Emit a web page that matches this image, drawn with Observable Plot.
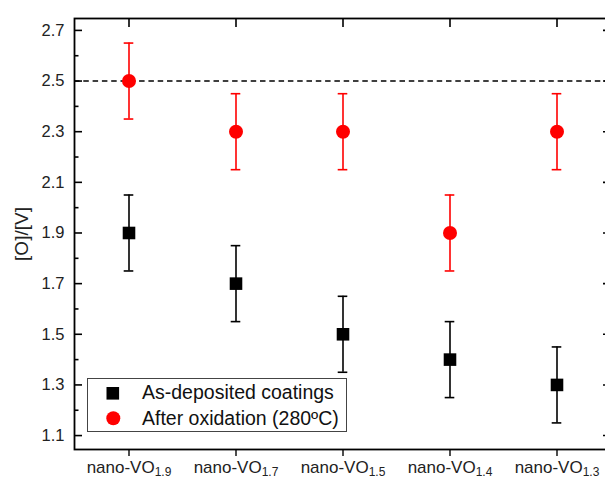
<!DOCTYPE html>
<html>
<head>
<meta charset="utf-8">
<script src="https://cdn.jsdelivr.net/npm/d3@7"></script>
<script src="https://cdn.jsdelivr.net/npm/@observablehq/plot@0.6"></script>
<style>
  html, body { margin: 0; padding: 0; background: #fff; overflow: hidden; }
  #wrap { width: 605px; height: 478px; overflow: hidden; }
  svg { font-family: "Liberation Sans", Arial, sans-serif; }
</style>
</head>
<body>
<div id="wrap"></div>
<script>
// Data
const categories = ["1.9", "1.7", "1.5", "1.4", "1.3"];
const asDeposited = [1.9, 1.7, 1.5, 1.4, 1.3];
const asDepositedErr = [0.15, 0.15, 0.15, 0.15, 0.15];
const oxidized = [2.5, 2.3, 2.3, 1.9, 2.3];
const oxidizedErr = [0.15, 0.15, 0.15, 0.15, 0.15];
const yTicks = [1.1, 1.3, 1.5, 1.7, 1.9, 2.1, 2.3, 2.5, 2.7];
const yMinorTicks = [1.2, 1.4, 1.6, 1.8, 2.0, 2.2, 2.4, 2.6];
const referenceLevel = 2.5;
const seriesNames = ["As-deposited coatings", "After oxidation (280ºC)"];
const seriesColors = ["#000000", "#ff0000"];

const dep = categories.map((c, i) => ({cat: c, v: asDeposited[i], lo: asDeposited[i] - asDepositedErr[i], hi: asDeposited[i] + asDepositedErr[i]}));
const ox = categories.map((c, i) => ({cat: c, v: oxidized[i], lo: oxidized[i] - oxidizedErr[i], hi: oxidized[i] + oxidizedErr[i]}));

const W = 611, H = 478;
const capInset = 48.7;

const chart = Plot.plot({
  width: W,
  height: H,
  marginLeft: 74,
  marginRight: 0,
  marginTop: 18,
  marginBottom: 29,
  style: {fontFamily: "Liberation Sans, Arial, sans-serif", maxWidth: "none", background: "white"},
  x: {type: "band", domain: categories, padding: 0},
  y: {domain: [1.045, 2.747]},
  marks: [
    Plot.ruleY([referenceLevel], {stroke: "black", strokeWidth: 1.6, strokeDasharray: "5.5,3.8"}),
    // error bars
    Plot.ruleX(dep, {x: "cat", y1: "lo", y2: "hi", stroke: seriesColors[0], strokeWidth: 1.6}),
    Plot.tickY(dep, {x: "cat", y: "lo", stroke: seriesColors[0], strokeWidth: 1.6, insetLeft: capInset, insetRight: capInset}),
    Plot.tickY(dep, {x: "cat", y: "hi", stroke: seriesColors[0], strokeWidth: 1.6, insetLeft: capInset, insetRight: capInset}),
    Plot.ruleX(ox, {x: "cat", y1: "lo", y2: "hi", stroke: seriesColors[1], strokeWidth: 1.6}),
    Plot.tickY(ox, {x: "cat", y: "lo", stroke: seriesColors[1], strokeWidth: 1.6, insetLeft: capInset, insetRight: capInset}),
    Plot.tickY(ox, {x: "cat", y: "hi", stroke: seriesColors[1], strokeWidth: 1.6, insetLeft: capInset, insetRight: capInset}),
    Plot.dot(dep, {x: "cat", y: "v", symbol: "square", r: 7.1, fill: seriesColors[0], stroke: "none"}),
    Plot.dot(ox, {x: "cat", y: "v", symbol: "circle", r: 7, fill: seriesColors[1], stroke: "none"}),
    // axes
    Plot.axisY({anchor: "left", ticks: yTicks, tickSize: 0, tickPadding: 10, tickFormat: d3.format(".1f"), fontSize: 16.5, color: "#222",
      label: "[O]/[V]", labelAnchor: "center", labelOffset: 60, labelArrow: "none"}),
    Plot.axisY({anchor: "left", ticks: yTicks, tickSize: -8, tickFormat: () => "", label: null, strokeWidth: 1.6}),
    Plot.axisY({anchor: "left", ticks: yMinorTicks, tickSize: -4.5, tickFormat: () => "", label: null, strokeWidth: 1.6}),
    Plot.axisY({anchor: "right", ticks: yTicks, tickSize: -9, tickFormat: () => "", label: null, strokeWidth: 1.6}),
    Plot.axisY({anchor: "right", ticks: yMinorTicks, tickSize: -4.5, tickFormat: () => "", label: null, strokeWidth: 1.6}),
    Plot.axisX({anchor: "top", tickSize: -8, tickFormat: () => "", label: null, strokeWidth: 1.6}),
    Plot.axisX({anchor: "bottom", tickSize: 7, tickPadding: 4, tickFormat: d => "nano-VO" + d, fontSize: 17, label: null, strokeWidth: 1.6, color: "#222"}),
    Plot.frame({stroke: "black", strokeWidth: 1.8})
  ]
});

chart.style.maxWidth = "none";
document.getElementById("wrap").appendChild(chart);

const svg = d3.select(chart);

// y-axis label font size
svg.selectAll('g[aria-label="y-axis label"] text').attr("font-size", 19);

// subscripts on x tick labels
svg.selectAll('g[aria-label="x-axis tick label"] text').each(function() {
  const t = d3.select(this);
  const full = t.text();
  if (!full || full.indexOf("nano-VO") !== 0) return;
  const sub = full.replace("nano-VO", "");
  t.text(null);
  t.append("tspan").text("nano-VO");
  t.append("tspan").attr("font-size", 12).attr("dy", "0.25em").text(sub);
});

// legend
const lg = svg.append("g").attr("aria-label", "legend").attr("text-anchor", "start");
lg.append("rect").attr("x", 87.5).attr("y", 378.5).attr("width", 259).attr("height", 53)
  .attr("fill", "white").attr("stroke", "#444").attr("stroke-width", 1);
lg.append("rect").attr("x", 106.5).attr("y", 387).attr("width", 12.6).attr("height", 12.6).attr("fill", seriesColors[0]);
lg.append("circle").attr("cx", 113.3).attr("cy", 418.3).attr("r", 7).attr("fill", seriesColors[1]);
lg.append("text").attr("x", 142).attr("y", 398.5).attr("font-size", 19.5).attr("fill", "#111").attr("text-anchor", "start").text(seriesNames[0]);
lg.append("text").attr("x", 142).attr("y", 424.5).attr("font-size", 19.5).attr("fill", "#111").attr("text-anchor", "start").text(seriesNames[1]);
</script>
</body>
</html>
